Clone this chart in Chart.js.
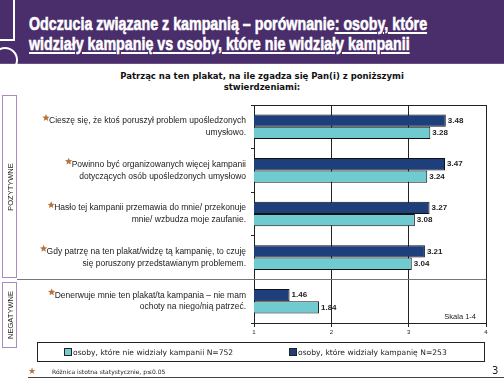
<!DOCTYPE html>
<html>
<head>
<meta charset="utf-8">
<script src="https://cdn.jsdelivr.net/npm/chart.js@4/dist/chart.umd.min.js"></script>
<style>
  html, body { margin:0; padding:0; background:#fff; }
  body { width:504px; height:380px; position:relative; overflow:hidden; font-family:"Liberation Sans", Arial, sans-serif; }
  #banner { position:absolute; left:0; top:0; width:504px; height:63px; background:#4a2d6b; border-bottom:1px solid #6a4f88; }
  #deco1 { position:absolute; left:-2px; top:-2px; width:15px; height:41px; border-right:2px solid #fff; border-bottom:2px solid #fff; }
  #deco2 { position:absolute; left:-8px; top:47px; width:22px; height:22px; border:2px solid #fff; border-radius:50%; }
  #title { position:absolute; left:29px; top:14px; color:#fff; font-family:"Liberation Sans",Arial,sans-serif; font-weight:bold; font-size:19px; line-height:19.5px; white-space:nowrap; transform:scaleX(0.75); transform-origin:0 0; -webkit-text-stroke:0.6px #fff; }
  #title u { text-decoration:underline; text-decoration-thickness:1.5px; text-underline-offset:2px; }
  #subtitle { position:absolute; left:60px; width:404px; top:71px; text-align:center; font-family:"DejaVu Sans",Verdana,sans-serif; font-weight:bold; font-size:8.5px; line-height:11px; color:#111; }
  canvas#c { position:absolute; left:0; top:0; }
  .side { position:absolute; left:2px; width:13px; border:1.5px solid #a88cc0; }
  .side span { position:absolute; left:50%; top:50%; transform:translate(-50%,-50%) rotate(-90deg); font-size:7.5px; color:#222; white-space:nowrap; font-family:"Liberation Sans",Arial,sans-serif; }
  #legend { position:absolute; left:37px; top:342px; width:448px; height:20px; border:1px solid #222; box-sizing:border-box; font-family:"DejaVu Sans",Verdana,sans-serif; font-size:7.6px; color:#222; }
  .li { position:absolute; top:5px; white-space:nowrap; line-height:9px; }
  .sw { display:inline-block; width:6px; height:6px; border:1px solid #222; margin-right:1px; vertical-align:-1px; }
  #foot { position:absolute; left:52px; top:368px; font-family:"DejaVu Sans",Verdana,sans-serif; font-size:6px; color:#222; white-space:nowrap; }
  #fstar { position:absolute; left:28px; top:366px; font-size:9px; color:#b8733a; }
  #pnum { position:absolute; left:492px; top:365px; font-family:"DejaVu Sans",Verdana,sans-serif; font-size:10px; color:#222; }
  #bline { position:absolute; left:28px; top:377px; width:476px; height:0; border-top:1.5px solid #444; }
</style>
</head>
<body>
<div id="banner"><div id="deco1"></div><div id="deco2"></div>
  <div id="title">Odczucia związane z kampanią – porównanie<u>: osoby, które</u><br><u>widziały kampanię vs osoby, które nie widziały kampanii</u></div>
</div>
<div id="subtitle">Patrząc na ten plakat, na ile zgadza się Pan(i) z poniższymi<br>stwierdzeniami:</div>
<canvas id="c" width="504" height="380"></canvas>
<div class="side" style="top:95px;height:181px;"><span>POZYTYWNE</span></div>
<div class="side" style="top:282px;height:64px;"><span>NEGATYWNE</span></div>
<div id="legend"></div>
<div id="fstar">★</div>
<div id="foot">Różnica istotna statystycznie, p≤0.05</div>
<div id="pnum">3</div>
<div id="bline"></div>
<script>
const categories = [
  ["Cieszę się, że ktoś poruszył problem upośledzonych", "umysłowo."],
  ["Powinno być organizowanych więcej kampanii", "dotyczących osób upośledzonych umysłowo"],
  ["Hasło tej kampanii przemawia do mnie/ przekonuje", "mnie/ wzbudza moje zaufanie."],
  ["Gdy patrzę na ten plakat/widzę tą kampanię, to czuję", "się poruszony przedstawianym problemem."],
  ["Denerwuje mnie ten plakat/ta kampania – nie mam", "ochoty na niego/nią patrzeć."]
];
const significant = [true, true, true, true, true];
const seriesSaw = [3.48, 3.47, 3.27, 3.21, 1.46];
const seriesNotSaw = [3.28, 3.24, 3.08, 3.04, 1.84];
const seriesNames = ["osoby, które widziały kampanię N=253", "osoby, które nie widziały kampanii N=752"];
const xTicks = [1, 2, 3, 4];
const scaleNote = "Skala 1-4";
const colDark = "#1d3f7c";
const colLight = "#6fcbd0";

const labelFont = { family: "'Liberation Sans', Arial, sans-serif", size: 8.5, lineHeight: 1.4 };

const extras = {
  id: 'extras',
  afterDatasetsDraw(chart) {
    const ctx = chart.ctx, ca = chart.chartArea;
    const ys = chart.scales.y;
    ctx.save();
    ctx.strokeStyle = '#222'; ctx.lineWidth = 1;
    ctx.beginPath(); ctx.moveTo(ca.left, ca.top + 0.5); ctx.lineTo(ca.right, ca.top + 0.5); ctx.stroke();
    const sepY = Math.round((ys.getPixelForValue(3) + ys.getPixelForValue(4)) / 2) + 0.5;
    ctx.strokeStyle = '#777';
    ctx.beginPath(); ctx.moveTo(17, sepY); ctx.lineTo(ca.right, sepY); ctx.stroke();
    ctx.fillStyle = '#222';
    ctx.font = "bold 8px 'Liberation Sans', Arial, sans-serif";
    ctx.textBaseline = 'middle'; ctx.textAlign = 'left';
    chart.data.datasets.forEach((ds, di) => {
      chart.getDatasetMeta(di).data.forEach((bar, i) => {
        ctx.fillText(ds.data[i].toFixed(2), bar.x + 2, bar.y);
      });
    });
    ctx.font = labelFont.size + "px " + labelFont.family;
    const lh = labelFont.size * labelFont.lineHeight;
    const rightX = ca.left - 3 - 5;
    categories.forEach((lines, i) => {
      if (!significant[i]) return;
      const yc = ys.getPixelForTick(i);
      const y1 = yc - lh * (lines.length - 1) / 2;
      const w = ctx.measureText(lines[0]).width;
      drawStar(ctx, rightX - w - 3, y1 - 3, 3.8);
    });
    ctx.fillStyle = '#222';
    ctx.font = "7.5px 'Liberation Sans', Arial, sans-serif";
    ctx.textAlign = 'right'; ctx.textBaseline = 'alphabetic';
    ctx.fillText(scaleNote, ca.right - 10, ca.bottom - 4);
    ctx.restore();
  }
};
function drawStar(ctx, cx, cy, r) {
  ctx.save();
  ctx.fillStyle = '#b8733a';
  ctx.beginPath();
  for (let k = 0; k < 10; k++) {
    const rr = k % 2 === 0 ? r : r * 0.45;
    const a = -Math.PI / 2 + k * Math.PI / 5;
    const px = cx + rr * Math.cos(a), py = cy + rr * Math.sin(a);
    if (k === 0) ctx.moveTo(px, py); else ctx.lineTo(px, py);
  }
  ctx.closePath(); ctx.fill();
  ctx.restore();
}

new Chart(document.getElementById('c'), {
  type: 'bar',
  data: {
    labels: categories,
    datasets: [
      { label: seriesNames[0], data: seriesSaw, backgroundColor: colDark, borderColor: '#111', borderWidth: 1, barPercentage: 1, categoryPercentage: 0.565 },
      { label: seriesNames[1], data: seriesNotSaw, backgroundColor: colLight, borderColor: '#111', borderWidth: 1, barPercentage: 1, categoryPercentage: 0.565 }
    ]
  },
  options: {
    indexAxis: 'y',
    responsive: false,
    animation: false,
    layout: { padding: { left: 0, right: 18, top: 105, bottom: 42 } },
    plugins: { legend: { display: false }, tooltip: { enabled: false } },
    scales: {
      x: {
        min: xTicks[0], max: xTicks[xTicks.length - 1],
        afterBuildTicks: (s) => { s.ticks = xTicks.map(v => ({ value: v })); },
        afterFit: (s) => { s.height = 15; },
        grid: { color: '#222', lineWidth: 1, tickLength: 4 },
        border: { display: true, color: '#222' },
        ticks: { color: '#222', padding: 2, font: { family: "'Liberation Sans', Arial, sans-serif", size: 6 } }
      },
      y: {
        afterFit: (s) => { s.width = 254; },
        grid: { drawOnChartArea: false, drawTicks: true, tickLength: 3, color: '#222', offset: true },
        border: { display: true, color: '#222' },
        ticks: { color: '#1a1a1a', padding: 5, font: labelFont, autoSkip: false }
      }
    }
  },
  plugins: [extras]
});

const lg = document.getElementById('legend');
[[seriesNames[1], colLight, 26], [seriesNames[0], colDark, 251]].forEach(([t, c, x]) => {
  const d = document.createElement('div');
  d.className = 'li'; d.style.left = x + 'px';
  d.innerHTML = '<span class="sw" style="background:' + c + '"></span>' + t;
  lg.appendChild(d);
});
</script>
</body>
</html>
